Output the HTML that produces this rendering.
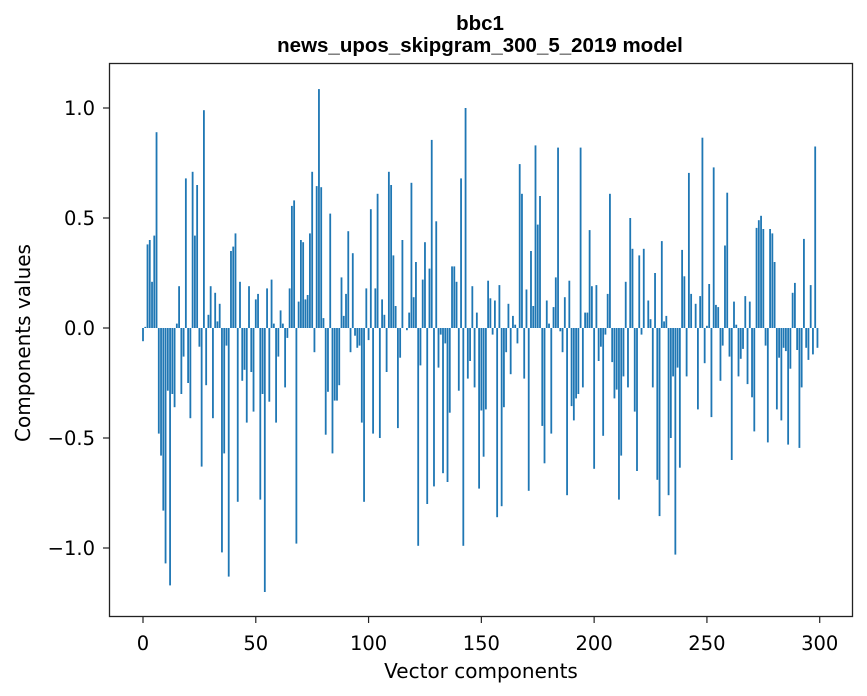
<!DOCTYPE html>
<html><head><meta charset="utf-8"><style>
body{margin:0;background:#fff;}
svg{display:block;font-family:"DejaVu Sans","Liberation Sans",sans-serif;}
</style></head><body>
<svg id="chart" width="867" height="696" viewBox="0 0 867 696" xmlns="http://www.w3.org/2000/svg">
<rect width="867" height="696" fill="#fff"/>
<text x="480" y="30" text-anchor="middle" font-size="20.5" font-weight="bold" font-family="Liberation Sans, sans-serif" fill="#000">bbc1</text>
<text x="480" y="52" text-anchor="middle" font-size="20.5" font-weight="bold" font-family="Liberation Sans, sans-serif" fill="#000">news_upos_skipgram_300_5_2019 model</text>
<g id="bars"></g>
<g id="xticks"></g>
<g id="yticks"></g>
<rect x="109.5" y="63.5" width="743" height="553" fill="none" stroke="#222" stroke-width="1.3"/>
<text x="481" y="678" text-anchor="middle" font-size="20" fill="#000">Vector components</text>
<text x="0" y="0" transform="translate(30,343) rotate(-90)" text-anchor="middle" font-size="20" fill="#000">Components values</text>
</svg>
<script>
const values1 = [-0.06,0.005,0.38,0.40,0.21,0.42,0.89,-0.48,-0.58,-0.83,-1.07,-0.285,-1.17,-0.30,-0.36,0.02,0.19,-0.30,-0.13,0.68,-0.25,-0.41,0.71,0.42,0.65,-0.085,-0.63,0.99,-0.26,0.06,0.19,-0.41,0.16,0.03,0.11,-1.02,-0.57,-0.08,-1.13,0.35,0.37,0.43,-0.79,0.21,-0.24,-0.19,-0.43,0.19,-0.20,-0.38];
const values2 = [0.13,0.155,-0.78,-0.30,-1.2,0.18,-0.335,0.22,0.02,-0.43,-0.13,0.08,0.02,-0.27,-0.045,0.18,0.555,0.58,-0.98,0.12,0.40,0.39,0.13,0.15,0.43,0.71,-0.11,0.645,1.086,0.64,0.045,-0.485,-0.29,0.52,-0.57,-0.33,-0.33,-0.26,0.23,0.055,0.155,0.44,-0.11,0.34,-0.035,-0.09,-0.08,-0.43,-0.79,0.18];
const values3 = [-0.055,0.54,-0.48,0.18,0.61,-0.50,0.13,0.06,-0.20,0.71,0.65,0.33,0.10,-0.455,-0.135,0.40,0.0,-0.01,0.07,0.66,0.14,0.30,-0.99,-0.17,0.22,0.39,-0.80,0.27,0.855,-0.72,0.485,-0.18,-0.03,-0.66,-0.07,-0.70,-0.385,0.28,0.28,0.21,-0.285,0.68,-0.99,1.0,-0.23,-0.15,0.19,-0.27,0.07,-0.73];
const values4 = [-0.375,-0.585,-0.37,0.215,0.135,-0.03,0.125,-0.86,0.195,-0.81,-0.36,-0.11,0.11,-0.21,0.055,0.015,-0.07,0.745,0.61,-0.23,0.175,-0.74,0.35,0.10,0.83,0.47,0.60,-0.445,-0.615,0.125,0.02,-0.48,0.095,0.23,0.82,-0.015,-0.11,0.14,-0.76,0.215,-0.355,-0.42,-0.32,-0.30,0.82,-0.27,0.07,0.07,0.445,0.19];
const values5 = [-0.64,0.195,-0.15,-0.085,-0.49,-0.03,0.155,0.61,-0.155,-0.32,-0.28,-0.78,-0.58,-0.22,0.21,-0.27,0.50,0.36,-0.38,-0.65,0.33,-0.03,0.36,0.0,0.125,0.04,-0.27,0.25,-0.69,-0.855,0.395,0.03,0.055,-0.76,-0.50,-0.22,-1.03,-0.18,-0.635,0.355,0.235,-0.22,0.705,0.155,0.0,0.11,-0.37,0.145,0.865,-0.16];
const values6 = [0.01,0.20,-0.405,0.73,0.105,0.095,-0.24,-0.08,0.375,0.615,-0.13,-0.60,0.12,0.015,-0.22,-0.14,-0.095,0.145,-0.255,0.12,-0.315,-0.47,0.455,0.49,0.51,0.45,-0.08,-0.52,0.45,0.43,0.30,-0.37,-0.135,-0.42,-0.09,-0.105,-0.53,-0.185,0.16,0.205,-0.10,-0.545,-0.27,0.405,-0.09,-0.145,0.195,-0.12,0.825,-0.09];
const xTicks = [0,50,100,150,200,250,300];
const yTicks = [-1.0,-0.5,0.0,0.5,1.0];
const yTickLabels = ["\u22121.0","\u22120.5","0.0","0.5","1.0"];

const values = values1.concat(values2, values3, values4, values5, values6);
const NS = "http://www.w3.org/2000/svg";
function xScale(v){ return 143 + v * 2.2557; }
function yScale(v){ return 328 - v * 220; }

const barsG = document.getElementById('bars');
values.forEach((v, i) => {
  const r = document.createElementNS(NS, 'rect');
  const x0 = xScale(i - 0.4), x1 = xScale(i + 0.4);
  const y0 = yScale(Math.max(v, 0)), y1 = yScale(Math.min(v, 0));
  r.setAttribute('x', x0);
  r.setAttribute('width', x1 - x0);
  r.setAttribute('y', y0);
  r.setAttribute('height', Math.max(y1 - y0, 0.01));
  r.setAttribute('fill', '#1f77b4');
  
  
  barsG.appendChild(r);
});

const xg = document.getElementById('xticks');
xTicks.forEach(t => {
  const x = xScale(t);
  const l = document.createElementNS(NS, 'line');
  l.setAttribute('x1', x); l.setAttribute('x2', x);
  l.setAttribute('y1', 617); l.setAttribute('y2', 623);
  l.setAttribute('stroke', '#222'); l.setAttribute('stroke-width', '1.2');
  
  
  xg.appendChild(l);
  const tx = document.createElementNS(NS, 'text');
  tx.setAttribute('x', x); tx.setAttribute('y', 650);
  tx.setAttribute('text-anchor', 'middle'); tx.setAttribute('font-size', '19.5');
  tx.textContent = t;
  
  
  xg.appendChild(tx);
});

const yg = document.getElementById('yticks');
yTicks.forEach((t, k) => {
  const y = yScale(t);
  const l = document.createElementNS(NS, 'line');
  l.setAttribute('x1', 103); l.setAttribute('x2', 109.5);
  l.setAttribute('y1', y); l.setAttribute('y2', y);
  l.setAttribute('stroke', '#222'); l.setAttribute('stroke-width', '1.2');
  
  
  yg.appendChild(l);
  const tx = document.createElementNS(NS, 'text');
  tx.setAttribute('x', 95); tx.setAttribute('y', y + 7);
  tx.setAttribute('text-anchor', 'end'); tx.setAttribute('font-size', '19.5');
  tx.textContent = yTickLabels[k];
  
  
  yg.appendChild(tx);
});
</script>
</body></html>
